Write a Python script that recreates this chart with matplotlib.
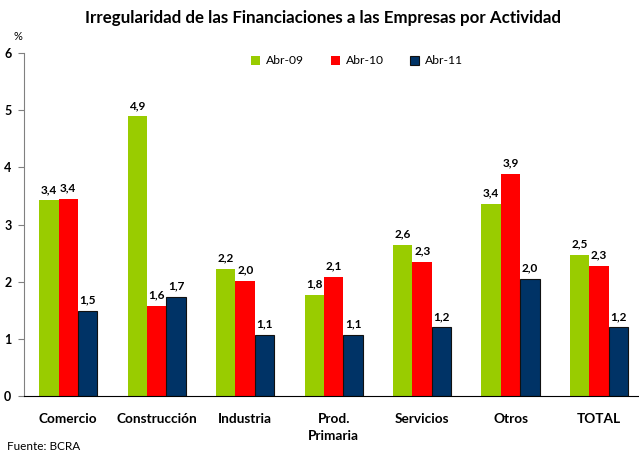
import matplotlib
matplotlib.use("Agg")
import matplotlib.pyplot as plt
import numpy as np

categories = ["Comercio", "Construcción", "Industria", "Prod.\nPrimaria",
              "Servicios", "Otros", "TOTAL"]
series_names = ["Abr-09", "Abr-10", "Abr-11"]
abr09 = [3.42, 4.89, 2.22, 1.76, 2.64, 3.36, 2.46]
abr10 = [3.44, 1.57, 2.02, 2.08, 2.34, 3.88, 2.27]
abr11 = [1.48, 1.74, 1.07, 1.07, 1.20, 2.04, 1.20]
colors = ["#99CC00", "#FF0000", "#003366"]
yticks = [0, 1, 2, 3, 4, 5, 6]

plt.rcParams["font.family"] = ["Lato", "DejaVu Sans"]

fig = plt.figure(figsize=(6.39, 4.53), dpi=100)
ax = fig.add_axes([24 / 639, 57 / 453, 615 / 639, 343 / 453])

x = np.arange(len(categories))
w = 0.22
for i, (vals, name, c) in enumerate(zip([abr09, abr10, abr11], series_names, colors)):
    pos = x + (i - 1) * w
    # the navy series has a thin dark outline in the original
    edge = "#111111" if i == 2 else c
    lw = 0.8 if i == 2 else 0
    bars = ax.bar(pos, vals, width=w, color=c, label=name, edgecolor=edge, linewidth=lw)
    for b, v in zip(bars, vals):
        ax.annotate(f"{v:.1f}".replace(".", ","),
                    (b.get_x() + b.get_width() / 2, b.get_height()),
                    xytext=(0, 4), textcoords="offset points",
                    ha="center", va="bottom", fontsize=8.5, fontweight="bold")

ax.set_xlim(-0.5, 6.45)
ax.set_ylim(0, 6)
ax.set_yticks(yticks)
ax.set_yticklabels([str(t) for t in yticks], fontsize=9, fontweight="bold")
ax.set_xticks(x)
ax.set_xticklabels(categories, fontsize=9.8, fontweight="bold", linespacing=1.5)
ax.tick_params(axis="x", length=0, pad=12)
ax.tick_params(axis="y", length=4, direction="out", pad=5, color="#808080")

for s in ["top", "right"]:
    ax.spines[s].set_visible(False)
ax.spines["left"].set_color("#808080")
ax.spines["bottom"].set_color("black")

ax.legend(loc="center left", bbox_to_anchor=(222 / 615, 1 - 8 / 343), ncol=3, frameon=False,
          fontsize=8.7, handlelength=0.75, handleheight=0.75, columnspacing=2.2,
          handletextpad=0.5, borderaxespad=0)

fig.text(0.505, 1 - 18 / 453, "Irregularidad de las Financiaciones a las Empresas por Actividad",
         ha="center", va="center", fontsize=12.2, fontweight="bold")
fig.text(18 / 639, 1 - 37 / 453, "%", ha="center", va="center", fontsize=8)
fig.text(7 / 639, 1 - 446 / 453, "Fuente: BCRA", ha="left", va="center", fontsize=8.5)

fig.savefig("out.png", dpi=100)
